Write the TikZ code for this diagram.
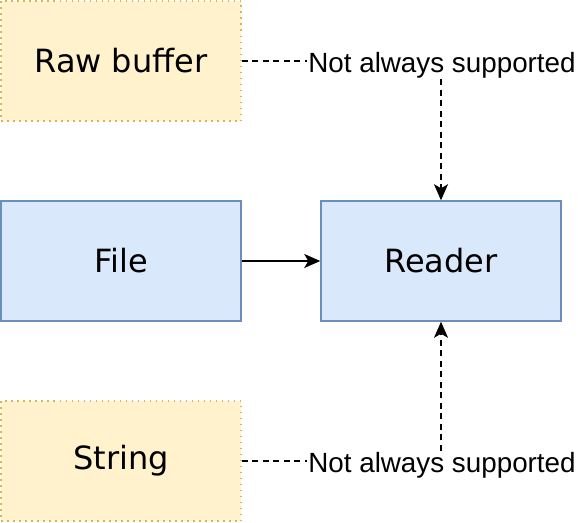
\documentclass[tikz,border=0pt]{standalone}
\usepackage{fontspec}
\setmainfont{DejaVu Sans}
\newfontfamily\labelfont{Liberation Sans}
\usepackage{tikz}
\usetikzlibrary{arrows.meta, positioning}

\definecolor{bluefill}{HTML}{DAE8FC}
\definecolor{blueline}{HTML}{6C8EBF}
\definecolor{yellowfill}{HTML}{FFF2CC}
\definecolor{yellowline}{HTML}{D6B656}

\begin{document}
\begin{tikzpicture}[
  x=1pt, y=-1pt,
  box/.style={draw=blueline, fill=bluefill, line width=1.5pt, minimum height=120pt, minimum width=240pt, align=center, font=\fontsize{32}{38}\selectfont, inner sep=4pt},
  srcbox/.style={box, draw=yellowline, fill=yellowfill, dash pattern=on 1.5pt off 4.5pt},
  note/.style={fill=white, inner sep=1pt, font=\labelfont\fontsize{27.8}{32}\selectfont},
  arr/.style={-{Stealth[length=16pt, width=14pt, inset=4pt]}, line width=1.5pt},
  dashline/.style={line width=1.5pt, dash pattern=on 6pt off 4.5pt}
]
\useasboundingbox (0,0) rectangle (578,522);
\node[srcbox] (rawbuf) at (121,61)  {Raw buffer};
\node[box]    (file)   at (121,261) {File};
\node[box]    (reader) at (441,261) {Reader};
\node[srcbox] (string) at (121,461) {String};
\node[note] (notetop) at (442,65)  {Not always supported};
\node[note] (notebot) at (442,465) {Not always supported};
% dashed links, label sits on the bend
\draw[dashline] (rawbuf.east) -- (rawbuf.east -| notetop.west);
\draw[arr, dashline] (notetop.south -| reader.north) -- (reader.north);
\draw[dashline] (string.east) -- (string.east -| notebot.west);
\draw[arr, dashline] (notebot.north -| reader.south) -- (reader.south);
\draw[arr] (file) -- (reader);
\end{tikzpicture}
\end{document}
